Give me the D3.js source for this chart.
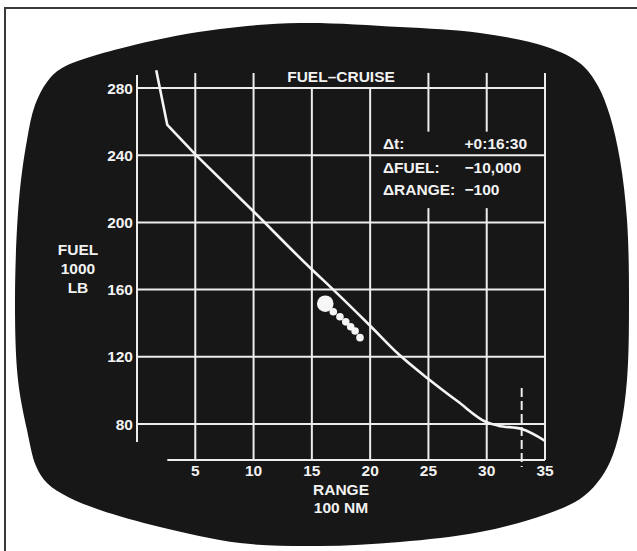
<!DOCTYPE html>
<html>
<head>
<meta charset="utf-8">
<script src="https://cdn.jsdelivr.net/npm/d3@7"></script>
<style>
  body { margin: 0; background: #fff; }
  svg text { font-family: "Liberation Sans", Arial, sans-serif; font-weight: bold; fill: #f2f2f2; }
</style>
</head>
<body>
<script>
// fuel-cruise display values
var rangeTicks = [5, 10, 15, 20, 25, 30, 35];
var fuelTicks = [80, 120, 160, 200, 240, 280];
var climbRange = [1.65, 2.6, 5];
var climbFuel  = [290.5, 258, 240.5];
var cruiseRange = [5, 10, 15, 16, 20, 22.4, 25, 27.5, 30, 31, 33, 35];
var cruiseFuel  = [240.5, 206.5, 172, 165.5, 138.5, 121.8, 106.8, 93.5, 81, 79, 77, 70];
var aircraftRange = [16.15];
var aircraftFuel = [151.6];
var trailRange = [16.84, 17.41, 17.91, 18.33, 18.71, 19.13];
var trailFuel  = [146.8, 143.8, 140.8, 137.9, 135.4, 131.4];
var markerRange = 33;
var infoLabels = ["t:", "FUEL:", "RANGE:"];
var infoValues = ["+0:16:30", "\u221210,000", "\u2212100"];

var width = 637, height = 551;

var svg = d3.select("body").append("svg")
    .attr("width", width)
    .attr("height", height);

// frame
svg.append("rect")
    .attr("x", 5).attr("y", 8)
    .attr("width", 640).attr("height", 560)
    .attr("fill", "#fff")
    .attr("stroke", "#3a3a3a")
    .attr("stroke-width", 2);

// crt screen outline
var screenPts = [[300,23],[400,27],[480,33],[547,47],[581,64],[598,86],[610,116],[620,160],[627,220],[629,300],
  [627,380],[620,430],[610,462],[597,483],[580,499],[547,514],[480,532],[400,542],[320,546],[240,543],
  [160,527],[100,510],[68,497],[47,483],[36,466],[27,430],[18,380],[15,300],[19,200],[27,140],
  [35,105],[47,82],[62,68],[134,45],[220,29]];
svg.append("path")
    .attr("d", d3.line().curve(d3.curveCatmullRomClosed)(screenPts))
    .attr("fill", "#171717");

var x = d3.scaleLinear().domain([0, 35]).range([137, 545]);
var y = d3.scaleLinear().domain([80, 280]).range([424, 88]);

var floorFuel = 58.6, topFuel = 289;
var grid = svg.append("g")
    .attr("stroke", "#ededed")
    .attr("stroke-width", 2)
    .attr("fill", "none");

// horizontal grid
grid.selectAll(".h").data(fuelTicks).enter().append("line")
    .attr("x1", x(0)).attr("x2", x(35))
    .attr("y1", function(d) { return y(d); })
    .attr("y2", function(d) { return y(d); });

// vertical grid, gap where the title and readout sit
var segs = [];
rangeTicks.forEach(function(r) {
  var top = (r == 15 || r == 20) ? 280 : topFuel;
  if (r == 25 || r == 30) {
    segs.push([r, topFuel, 254]);
    segs.push([r, 208.5, floorFuel]);
  } else {
    segs.push([r, top, floorFuel]);
  }
});
grid.selectAll(".v").data(segs).enter().append("line")
    .attr("x1", function(d) { return x(d[0]); })
    .attr("x2", function(d) { return x(d[0]); })
    .attr("y1", function(d) { return y(d[1]); })
    .attr("y2", function(d) { return y(d[2]); });

// left axis + bottom axis
grid.append("line")
    .attr("x1", x(0)).attr("x2", x(0))
    .attr("y1", y(287.7)).attr("y2", y(69.3));
grid.append("line")
    .attr("x1", x(2.6)).attr("x2", x(35))
    .attr("y1", y(floorFuel)).attr("y2", y(floorFuel));

// dashed marker
svg.append("line")
    .attr("x1", x(markerRange)).attr("x2", x(markerRange))
    .attr("y1", y(101.4)).attr("y2", y(54.4))
    .attr("stroke", "#ededed")
    .attr("stroke-width", 2)
    .attr("stroke-dasharray", "9,4");

// fuel curve: sharp climb leg, smooth cruise leg
var pts = function(rs, fs) { return rs.map(function(r, i) { return [x(r), y(fs[i])]; }); };
svg.append("path")
    .attr("d", d3.line()(pts(climbRange, climbFuel)))
    .attr("fill", "none")
    .attr("stroke", "#f4f4f4")
    .attr("stroke-width", 2.6)
    .attr("stroke-linejoin", "round");
svg.append("path")
    .attr("d", d3.line().curve(d3.curveMonotoneX)(pts(cruiseRange, cruiseFuel)))
    .attr("fill", "none")
    .attr("stroke", "#f4f4f4")
    .attr("stroke-width", 2.6)
    .attr("stroke-linejoin", "round");

// aircraft trail
svg.selectAll(".trail").data(trailRange).enter().append("circle")
    .attr("cx", function(d) { return x(d); })
    .attr("cy", function(d, i) { return y(trailFuel[i]); })
    .attr("r", 3.8)
    .attr("fill", "#f4f4f4");
svg.selectAll(".ac").data(aircraftRange).enter().append("circle")
    .attr("cx", function(d) { return x(d); })
    .attr("cy", function(d, i) { return y(aircraftFuel[i]); })
    .attr("r", 8.3)
    .attr("fill", "#f6f6f6");

// tick labels
svg.selectAll(".xl").data(rangeTicks).enter().append("text")
    .attr("x", function(d) { return x(d); })
    .attr("y", 476)
    .attr("text-anchor", "middle")
    .attr("font-size", 15.5)
    .text(function(d) { return d; });
svg.selectAll(".yl").data(fuelTicks).enter().append("text")
    .attr("x", x(0) - 4)
    .attr("y", function(d) { return y(d) + 5.5; })
    .attr("text-anchor", "end")
    .attr("font-size", 15.5)
    .text(function(d) { return d; });

// titles
svg.append("text")
    .attr("x", x(17.5)).attr("y", 82)
    .attr("text-anchor", "middle")
    .attr("font-size", 15.5)
    .text("FUEL\u2013CRUISE");
["FUEL", "1000", "LB"].forEach(function(t, i) {
  svg.append("text")
      .attr("x", 78).attr("y", 255 + i * 19)
      .attr("text-anchor", "middle")
      .attr("font-size", 15.5)
      .text(t);
});
["RANGE", "100 NM"].forEach(function(t, i) {
  svg.append("text")
      .attr("x", x(17.5)).attr("y", 495 + i * 18)
      .attr("text-anchor", "middle")
      .attr("font-size", 15.5)
      .text(t);
});

// readout
var rowY = [149, 173, 195];
infoLabels.forEach(function(t, i) {
  var tx = svg.append("text")
      .attr("x", x(21.1)).attr("y", rowY[i])
      .attr("font-size", 15.5);
  tx.append("tspan").text("\u0394");
  tx.append("tspan").text(t);
  svg.append("text")
      .attr("x", x(28.1)).attr("y", rowY[i])
      .attr("font-size", 15.5)
      .text(infoValues[i]);
});
</script>
</body>
</html>
